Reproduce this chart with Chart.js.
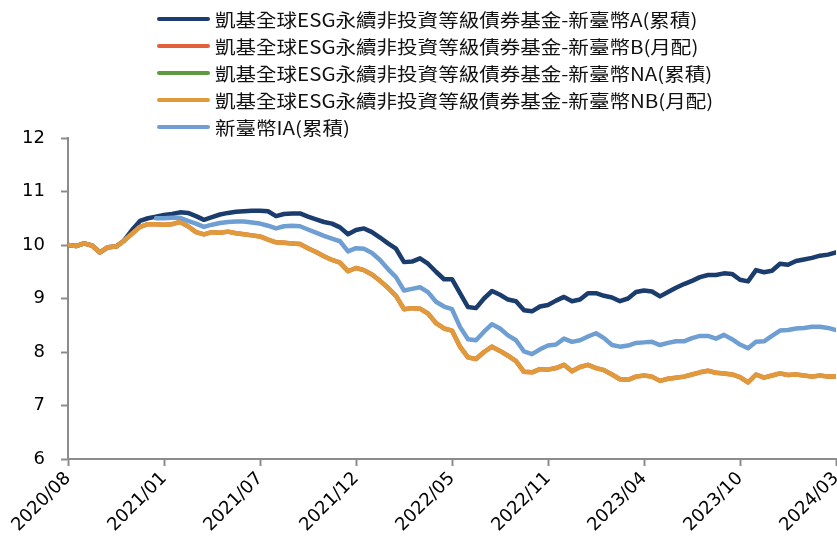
<!DOCTYPE html>
<html>
<head>
<meta charset="utf-8">
<script src="https://cdn.jsdelivr.net/npm/chart.js@4.4.1/dist/chart.umd.min.js"></script>
<style>
  html, body { margin: 0; padding: 0; background: #fff; }
  #wrap { position: relative; width: 837px; height: 550px; }
  #chart { position: absolute; left: 0; top: 0; }
  #legend { position: absolute; left: 157px; top: 5px; font-family: "Noto Sans CJK TC", sans-serif; font-size: 18px; color: #111; }
  .row { display: flex; align-items: center; height: 27px; white-space: nowrap; }
  .swatch { width: 53px; height: 4px; border-radius: 2px; margin-right: 5px; }
  .name { display: inline-block; transform: scaleX(1.14); transform-origin: left center; }
</style>
</head>
<body>
<div id="wrap">
  <canvas id="chart" width="837" height="550"></canvas>
  <div id="legend"></div>
</div>
<script>
// x axis tick labels, one every 12 samples
const tickLabels = ['2020/08', '2021/01', '2021/07', '2021/12', '2022/05', '2022/11', '2023/04', '2023/10', '2024/03'];
const samplesPerTick = 12;

// NAV (97 samples, roughly every 2 weeks)
const navA = [
  10.0, 9.98, 10.03, 9.99, 9.86, 9.96, 9.97, 10.08, 10.28, 10.45,
  10.5, 10.53, 10.56, 10.58, 10.61, 10.6, 10.54, 10.47, 10.52, 10.57,
  10.6, 10.62, 10.63, 10.64, 10.64, 10.63, 10.54, 10.58, 10.59, 10.59,
  10.53, 10.48, 10.43, 10.4, 10.33, 10.2, 10.28, 10.31, 10.24, 10.14,
  10.03, 9.93, 9.68, 9.69, 9.75, 9.65, 9.5, 9.36, 9.36, 9.1,
  8.84, 8.82, 9.0, 9.14, 9.07, 8.98, 8.95, 8.78, 8.76, 8.85,
  8.88, 8.96, 9.03, 8.95, 8.98, 9.1, 9.1, 9.05, 9.02, 8.95,
  9.0, 9.12, 9.15, 9.13, 9.04, 9.12, 9.2, 9.27, 9.33, 9.4,
  9.44, 9.44, 9.47, 9.46, 9.35, 9.32, 9.53, 9.49, 9.52, 9.65,
  9.63, 9.7, 9.73, 9.76, 9.8, 9.82, 9.86
];
const navNB = [
  10.0, 9.98, 10.03, 9.99, 9.86, 9.96, 9.97, 10.08, 10.21, 10.34,
  10.39, 10.39, 10.38, 10.39, 10.43, 10.35, 10.24, 10.2, 10.24, 10.23,
  10.25, 10.22, 10.2, 10.18, 10.16, 10.1, 10.05, 10.04, 10.03, 10.02,
  9.94, 9.87, 9.79, 9.72, 9.67, 9.51, 9.57, 9.53, 9.45, 9.33,
  9.2, 9.05, 8.8, 8.82, 8.81, 8.72, 8.54, 8.44, 8.4, 8.1,
  7.9, 7.87, 8.0, 8.1, 8.02, 7.93, 7.83, 7.63, 7.62, 7.68,
  7.67, 7.7, 7.76, 7.64, 7.72, 7.76, 7.7, 7.66, 7.58, 7.49,
  7.48, 7.54, 7.56, 7.54, 7.46, 7.5, 7.52, 7.54, 7.58, 7.62,
  7.65, 7.61, 7.6, 7.58, 7.53, 7.43, 7.58, 7.52, 7.56, 7.6,
  7.57, 7.58, 7.56, 7.54, 7.56, 7.54, 7.54
];
// B sits right under NB in the picture
const navB = navNB;
// NA never shows in the picture
const navNA = [];
// IA starts later (2020/12)
const navIA = [
  null, null, null, null, null, null, null, null, null, null,
  null, 10.5, 10.5, 10.51, 10.51, 10.45, 10.4, 10.34, 10.38, 10.41,
  10.43, 10.44, 10.44, 10.42, 10.4, 10.36, 10.31, 10.35, 10.36, 10.35,
  10.29, 10.23, 10.17, 10.12, 10.07, 9.88, 9.94, 9.93, 9.85, 9.72,
  9.55, 9.4, 9.15, 9.18, 9.21, 9.12, 8.94, 8.85, 8.8, 8.47,
  8.24, 8.22, 8.38, 8.52, 8.44, 8.31, 8.22, 8.01, 7.96, 8.05,
  8.12, 8.14, 8.25, 8.19, 8.22, 8.29, 8.35, 8.26, 8.13, 8.1,
  8.12, 8.17, 8.18, 8.19, 8.13, 8.17, 8.2, 8.2, 8.26, 8.3,
  8.3, 8.25, 8.32, 8.24, 8.14, 8.07, 8.19, 8.2, 8.3, 8.4,
  8.41, 8.44, 8.45, 8.47, 8.47, 8.45, 8.41
];

const seriesNames = [
  '凱基全球ESG永續非投資等級債券基金-新臺幣A(累積)',
  '凱基全球ESG永續非投資等級債券基金-新臺幣B(月配)',
  '凱基全球ESG永續非投資等級債券基金-新臺幣NA(累積)',
  '凱基全球ESG永續非投資等級債券基金-新臺幣NB(月配)',
  '新臺幣IA(累積)'
];
const seriesColors = ['#1b3d6d', '#e0613a', '#5c9a3f', '#e09a3c', '#6f9fd2'];
const seriesData = [navA, navB, navNA, navNB, navIA];
// lower number = drawn on top
const drawOrder = [5, 4, 3, 2, 1];

const axisGray = '#8c8c8c';
const tickFont = { family: '"DejaVu Sans", sans-serif', size: 18 };

function toPoints(arr) {
  return arr.map((v, i) => ({ x: i, y: v }));
}

const datasets = seriesNames.map((name, i) => ({
  label: name,
  data: toPoints(seriesData[i]),
  borderColor: seriesColors[i],
  backgroundColor: seriesColors[i],
  borderWidth: 4.5,
  pointRadius: 0,
  tension: 0,
  borderJoinStyle: 'round',
  borderCapStyle: 'round',
  spanGaps: false,
  order: drawOrder[i]
}));

// legend as plain html rows
const legendBox = document.getElementById('legend');
seriesNames.forEach((name, i) => {
  const row = document.createElement('div');
  row.className = 'row';
  const sw = document.createElement('span');
  sw.className = 'swatch';
  sw.style.background = seriesColors[i];
  const txt = document.createElement('span');
  txt.className = 'name';
  txt.textContent = name;
  row.appendChild(sw);
  row.appendChild(txt);
  legendBox.appendChild(row);
});

new Chart(document.getElementById('chart'), {
  type: 'line',
  data: { datasets: datasets },
  options: {
    responsive: false,
    animation: false,
    layout: { padding: { top: 138, right: 1, left: 0, bottom: 0 } },
    plugins: { legend: { display: false }, tooltip: { enabled: false } },
    scales: {
      x: {
        type: 'linear',
        min: 0,
        max: (tickLabels.length - 1) * samplesPerTick,
        afterFit: s => { s.height = 91; s.paddingLeft = 0; s.paddingRight = 0; },
        ticks: {
          stepSize: samplesPerTick,
          autoSkip: false,
          minRotation: 45,
          maxRotation: 45,
          padding: 2,
          color: '#000',
          font: tickFont,
          callback: v => tickLabels[v / samplesPerTick]
        },
        grid: { drawOnChartArea: false, drawTicks: true, tickLength: 7, tickWidth: 2, tickColor: axisGray },
        border: { color: axisGray, width: 2 }
      },
      y: {
        min: 6,
        max: 12,
        afterFit: s => { s.width = 68; },
        ticks: { stepSize: 1, padding: 16, color: '#000', font: tickFont },
        grid: { drawOnChartArea: false, drawTicks: true, tickLength: 7, tickWidth: 2, tickColor: axisGray },
        border: { color: axisGray, width: 2 }
      }
    }
  }
});
</script>
</body>
</html>
